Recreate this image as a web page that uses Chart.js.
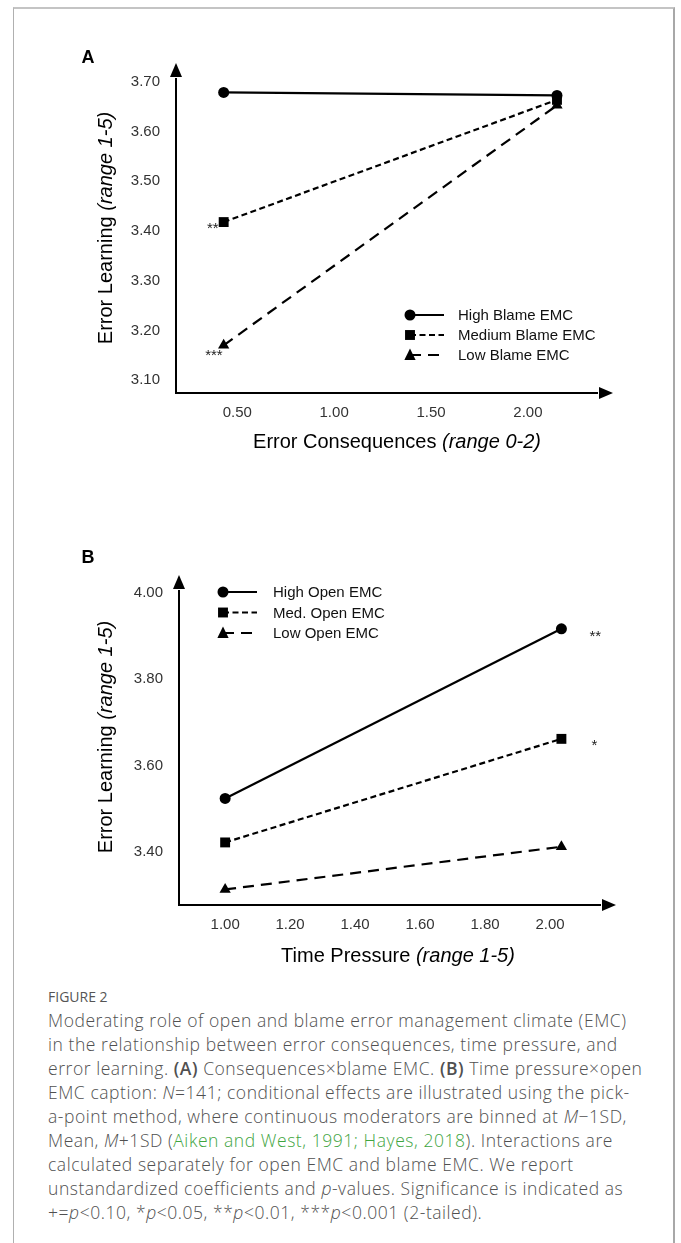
<!DOCTYPE html>
<html><head><meta charset="utf-8">
<script src="https://cdn.jsdelivr.net/npm/chart.js@4.4.1/dist/chart.umd.min.js"></script>
<style>
html,body{margin:0;padding:0;background:#fff;}
body{width:681px;height:1243px;position:relative;overflow:hidden;font-family:"Liberation Sans",Arial,sans-serif;}
.frame{position:absolute;left:13px;top:7px;width:662px;height:1300px;border-left:1px solid #b0b0b0;border-top:2px solid #c4c4c4;border-right:2px solid #a8a8a8;box-sizing:border-box;}
canvas{position:absolute;left:0;}
.lbl{position:absolute;font-weight:bold;font-size:18px;color:#000;transform:translate(-50%,-50%);}
.ttl{position:absolute;font-size:20px;color:#000;white-space:nowrap;}
.ytl{transform:translate(-50%,-50%) rotate(-90deg);}
.xtl{transform:translate(-50%,-50%);}
.fig{position:absolute;left:48px;top:987px;font-family:"Open Sans",sans-serif;font-size:14px;color:#555;letter-spacing:0px;}
.cap{position:absolute;left:48px;top:1008px;font-family:"Open Sans",sans-serif;font-weight:300;color:#505050;font-size:17.5px;line-height:24px;white-space:pre;letter-spacing:0.55px;}
.cap b{font-weight:600;}
.cap a{color:#3fa53f;text-decoration:none;}
</style>
</head>
<body>
<div class="frame"></div>
<canvas id="chartA" width="681" height="440" style="top:0px"></canvas>
<canvas id="chartB" width="681" height="440" style="top:520px"></canvas>
<div class="lbl" style="left:88px;top:57px">A</div>
<div class="lbl" style="left:88px;top:557px">B</div>
<div class="ttl ytl" style="left:105px;top:228px">Error Learning <i>(range 1-5)</i></div>
<div class="ttl xtl" style="left:397px;top:441px">Error Consequences <i>(range 0-2)</i></div>
<div class="ttl ytl" style="left:105px;top:737px">Error Learning <i>(range 1-5)</i></div>
<div class="ttl xtl" style="left:398px;top:955px">Time Pressure <i>(range 1-5)</i></div>
<div class="fig">FIGURE 2</div>
<div class="cap">Moderating role of open and blame error management climate (EMC)
in the relationship between error consequences, time pressure, and
error learning. <b>(A)</b> Consequences×blame EMC. <b>(B)</b> Time pressure×open
EMC caption: <i>N</i>=141; conditional effects are illustrated using the pick-
a-point method, where continuous moderators are binned at <i>M</i>−1SD,
Mean, <i>M</i>+1SD (<a>Aiken and West, 1991; Hayes, 2018</a>). Interactions are
calculated separately for open EMC and blame EMC. We report
unstandardized coefficients and <i>p</i>-values. Significance is indicated as
+=<i>p</i>&lt;0.10, *<i>p</i>&lt;0.05, **<i>p</i>&lt;0.01, ***<i>p</i>&lt;0.001 (2-tailed).</div>
<script>
// ---- Panel A data ----
const blameX = [0.43, 2.15];
const highBlame = [3.679, 3.673];
const medBlame = [3.418, 3.664];
const lowBlame = [3.170, 3.653];
const blameYTicks = [3.10, 3.20, 3.30, 3.40, 3.50, 3.60, 3.70];
const blameXTicks = [0.50, 1.00, 1.50, 2.00];
const blameLabels = ['High Blame EMC', 'Medium Blame EMC', 'Low Blame EMC'];
const blameStars = ['', '**', '***'];       // at first point
// ---- Panel B data ----
const openX = [1.00, 2.035];
const highOpen = [3.524, 3.917];
const medOpen = [3.422, 3.662];
const lowOpen = [3.313, 3.412];
const openYTicks = [3.40, 3.60, 3.80, 4.00];
const openXTicks = [1.00, 1.20, 1.40, 1.60, 1.80, 2.00];
const openLabels = ['High Open EMC', 'Med. Open EMC', 'Low Open EMC'];
const openStars = ['**', '*', ''];          // at last point

const styles = [
  {pointStyle:'circle', radius:5.5, dash:[]},
  {pointStyle:'rect', radius:7, dash:[6,3.5]},
  {pointStyle:'triangle', radius:6.5, dash:[11,7]}
];

function drawMarker(ctx, style, r, x, y){
  ctx.save();
  ctx.fillStyle='#000';
  ctx.beginPath();
  if(style==='circle'){ ctx.arc(x,y,r,0,Math.PI*2); }
  else if(style==='rect'){ const s=Math.SQRT1_2*r; ctx.rect(x-s,y-s,2*s,2*s); }
  else { ctx.moveTo(x, y-r); ctx.lineTo(x+r*Math.sin(Math.PI/3), y+r*0.75); ctx.lineTo(x-r*Math.sin(Math.PI/3), y+r*0.75); ctx.closePath(); }
  ctx.fill();
  ctx.restore();
}

const axisArrows = {
  id:'axisArrows',
  beforeDatasetsDraw(chart){
    const {ctx, chartArea:a} = chart;
    ctx.save();
    ctx.strokeStyle='#000'; ctx.fillStyle='#000'; ctx.lineWidth=2;
    ctx.beginPath();
    ctx.moveTo(a.left, a.top+2); ctx.lineTo(a.left, a.bottom); ctx.lineTo(a.right-2, a.bottom);
    ctx.stroke();
    ctx.beginPath();
    ctx.moveTo(a.left, a.top-13); ctx.lineTo(a.left+6, a.top+1); ctx.lineTo(a.left-6, a.top+1); ctx.closePath(); ctx.fill();
    ctx.beginPath();
    ctx.moveTo(a.right+13, a.bottom); ctx.lineTo(a.right-1, a.bottom-6); ctx.lineTo(a.right-1, a.bottom+6); ctx.closePath(); ctx.fill();
    ctx.restore();
  }
};

const legendAndStars = {
  id:'legendAndStars',
  afterDatasetsDraw(chart, args, opts){
    const ctx = chart.ctx;
    ctx.save();
    ctx.font = '15px "Liberation Sans", Arial, sans-serif';
    ctx.textBaseline = 'middle';
    opts.labels.forEach((lab, i) => {
      const y = opts.y + i*opts.dy;
      const st = styles[i];
      ctx.strokeStyle='#000'; ctx.lineWidth=2.2;
      ctx.setLineDash(st.dash);
      ctx.beginPath(); ctx.moveTo(opts.x, y); ctx.lineTo(opts.x+opts.len, y); ctx.stroke();
      ctx.setLineDash([]);
      drawMarker(ctx, st.pointStyle, st.radius, opts.x, y);
      ctx.fillStyle='#111';
      ctx.textAlign='left';
      ctx.fillText(lab, opts.x+opts.len+opts.gap, y+1);
    });
    // significance stars
    ctx.font = '15px "Liberation Sans", Arial, sans-serif';
    ctx.textBaseline='alphabetic';
    ctx.fillStyle='#222';
    opts.stars.forEach((s, i) => {
      if(!s) return;
      const pt = chart.getDatasetMeta(i).data[opts.starIndex];
      const off = opts.starOffsets[i];
      ctx.textAlign = off.align;
      ctx.fillText(s, pt.x + off.dx, pt.y + off.dy);
    });
    ctx.restore();
  }
};

function makeChart(id, xs, series, labels, xTicks, yTicks, xr, yr, pad, yW, legend){
  const datasets = series.map((vals, i) => ({
    label: labels[i],
    data: xs.map((x, k) => ({x, y: vals[k]})),
    showLine: true,
    borderColor:'#000', backgroundColor:'#000',
    borderWidth: 2.2,
    borderDash: styles[i].dash,
    pointStyle: styles[i].pointStyle,
    pointRadius: styles[i].radius,
    pointBorderWidth: 0,
    pointBackgroundColor:'#000',
    clip: false
  }));
  return new Chart(document.getElementById(id), {
    type:'scatter',
    data:{datasets},
    options:{
      responsive:false, animation:false, events:[],
      layout:{padding:pad},
      plugins:{legend:{display:false}, tooltip:{enabled:false}, legendAndStars: legend},
      scales:{
        x:{type:'linear', min:xr[0], max:xr[1],
           grid:{display:false, drawTicks:false}, border:{display:false},
           afterBuildTicks: s => { s.ticks = xTicks.map(v => ({value:v})); },
           afterFit: s => { s.height = 40; },
           ticks:{padding:11, color:'#333', font:{family:'"Liberation Sans", Arial, sans-serif', size:15}, callback: v => Number(v).toFixed(2), maxRotation:0, autoSkip:false}},
        y:{type:'linear', min:yr[0], max:yr[1],
           grid:{display:false, drawTicks:false}, border:{display:false},
           afterBuildTicks: s => { s.ticks = yTicks.map(v => ({value:v})); },
           afterFit: s => { s.width = yW; },
           ticks:{padding:16, color:'#333', font:{family:'"Liberation Sans", Arial, sans-serif', size:15}, callback: v => Number(v).toFixed(2), autoSkip:false}}
      }
    },
    plugins:[axisArrows, legendAndStars]
  });
}

// Panel A: chart area left 176, right 600, top 76, bottom 393 (page coords; canvas top 0)
makeChart('chartA', blameX, [highBlame, medBlame, lowBlame], blameLabels, blameXTicks, blameYTicks,
  [0.184, 2.372], [3.074, 3.712], {top:76, right:81, bottom:7, left:0}, 176,
  {labels: blameLabels, x:410, len:34, gap:14, y:315, dy:20, stars: blameStars, starIndex:0,
   starOffsets:[null, {align:'right', dx:-5, dy:11}, {align:'right', dx:-1, dy:15}]});

// Panel B: chart area left 179, right 603, top 588, bottom 905 (page); canvas top 520
makeChart('chartB', openX, [highOpen, medOpen, lowOpen], openLabels, openXTicks, openYTicks,
  [0.858, 2.163], [3.277, 4.0116], {top:68, right:78, bottom:15, left:0}, 179,
  {labels: openLabels, x:223, len:34, gap:16, y:72, dy:20.5, stars: openStars, starIndex:1,
   starOffsets:[{align:'left', dx:28, dy:12}, {align:'left', dx:30, dy:11}, null]});
</script>
</body></html>
